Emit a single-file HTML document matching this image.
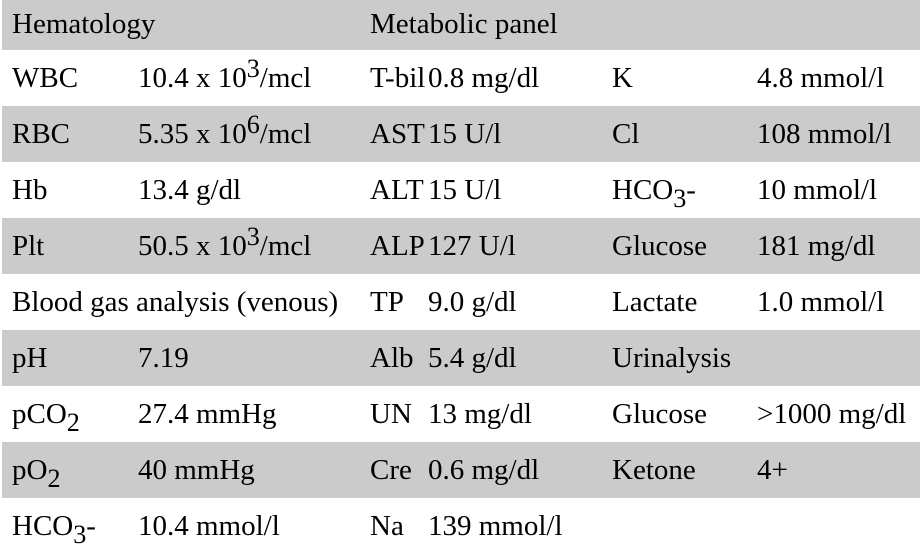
<!DOCTYPE html>
<html><head><meta charset="utf-8"><style>
body{margin:0;width:920px;height:552px;background:#fff;overflow:hidden;font-family:"Liberation Serif","Noto Serif CJK SC","DejaVu Serif",serif;font-size:29px;color:#000}
.r{position:absolute;left:2px;width:918px;height:56px}
.g{background:#cbcbcb}
.t{position:absolute;white-space:nowrap;line-height:56px}
.sp{font-size:0.9em;position:relative;top:-0.38em}
.sb{font-size:0.9em;position:relative;top:0.3em}
</style></head><body>
<div class="r g" style="top:0;height:50px"></div>
<div class="r g" style="top:106px"></div>
<div class="r g" style="top:218px"></div>
<div class="r g" style="top:330px"></div>
<div class="r g" style="top:442px"></div>

<div class="t" style="top:-4px;left:12px">Hematology</div>
<div class="t" style="top:-4px;left:370px">Metabolic panel</div>

<div class="t" style="top:50px;left:12px">WBC</div>
<div class="t" style="top:50px;left:138px">10.4 x 10<span class="sp">3</span>/mcl</div>
<div class="t" style="top:50px;left:370px">T-bil</div>
<div class="t" style="top:50px;left:428px">0.8 mg/dl</div>
<div class="t" style="top:50px;left:612px">K</div>
<div class="t" style="top:50px;left:757px">4.8 mmol/l</div>

<div class="t" style="top:106px;left:12px">RBC</div>
<div class="t" style="top:106px;left:138px">5.35 x 10<span class="sp">6</span>/mcl</div>
<div class="t" style="top:106px;left:370px">AST</div>
<div class="t" style="top:106px;left:428px">15 U/l</div>
<div class="t" style="top:106px;left:612px">Cl</div>
<div class="t" style="top:106px;left:757px">108 mmol/l</div>

<div class="t" style="top:162px;left:12px">Hb</div>
<div class="t" style="top:162px;left:138px">13.4 g/dl</div>
<div class="t" style="top:162px;left:370px">ALT</div>
<div class="t" style="top:162px;left:428px">15 U/l</div>
<div class="t" style="top:162px;left:612px">HCO<span class="sb">3</span>-</div>
<div class="t" style="top:162px;left:757px">10 mmol/l</div>

<div class="t" style="top:218px;left:12px">Plt</div>
<div class="t" style="top:218px;left:138px">50.5 x 10<span class="sp">3</span>/mcl</div>
<div class="t" style="top:218px;left:370px">ALP</div>
<div class="t" style="top:218px;left:428px">127 U/l</div>
<div class="t" style="top:218px;left:612px">Glucose</div>
<div class="t" style="top:218px;left:757px">181 mg/dl</div>

<div class="t" style="top:274px;left:12px">Blood gas analysis (venous)</div>
<div class="t" style="top:274px;left:370px">TP</div>
<div class="t" style="top:274px;left:428px">9.0 g/dl</div>
<div class="t" style="top:274px;left:612px">Lactate</div>
<div class="t" style="top:274px;left:757px">1.0 mmol/l</div>

<div class="t" style="top:330px;left:12px">pH</div>
<div class="t" style="top:330px;left:138px">7.19</div>
<div class="t" style="top:330px;left:370px">Alb</div>
<div class="t" style="top:330px;left:428px">5.4 g/dl</div>
<div class="t" style="top:330px;left:612px">Urinalysis</div>

<div class="t" style="top:386px;left:12px">pCO<span class="sb">2</span></div>
<div class="t" style="top:386px;left:138px">27.4 mmHg</div>
<div class="t" style="top:386px;left:370px">UN</div>
<div class="t" style="top:386px;left:428px">13 mg/dl</div>
<div class="t" style="top:386px;left:612px">Glucose</div>
<div class="t" style="top:386px;left:757px">&gt;1000 mg/dl</div>

<div class="t" style="top:442px;left:12px">pO<span class="sb">2</span></div>
<div class="t" style="top:442px;left:138px">40 mmHg</div>
<div class="t" style="top:442px;left:370px">Cre</div>
<div class="t" style="top:442px;left:428px">0.6 mg/dl</div>
<div class="t" style="top:442px;left:612px">Ketone</div>
<div class="t" style="top:442px;left:757px">4+</div>

<div class="t" style="top:498px;left:12px">HCO<span class="sb">3</span>-</div>
<div class="t" style="top:498px;left:138px">10.4 mmol/l</div>
<div class="t" style="top:498px;left:370px">Na</div>
<div class="t" style="top:498px;left:428px">139 mmol/l</div>
</body></html>
